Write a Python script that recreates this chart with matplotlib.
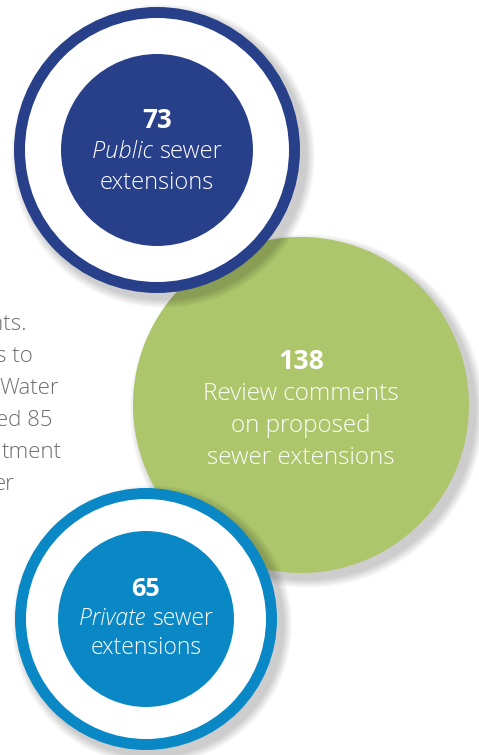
import matplotlib
matplotlib.use("Agg")
import matplotlib.pyplot as plt
from matplotlib.patches import Circle
from matplotlib import font_manager

# --- data ---
values = ["73", "138", "65"]
italic_words = ["Public", None, "Private"]
label_lines = [
    ["sewer", "extensions"],
    ["Review comments", "on proposed", "sewer extensions"],
    ["sewer", "extensions"],
]
side_text = ["nts.", "s to", "Water", "ed 85", "tment", "er"]

# --- layout (pixels, y down) ---
W, H = 479, 755
NAVY = "#283f8a"
GREEN = "#adc56b"
BLUE = "#0a88c6"
GREY = "#6d6e71"
FONT = "Open Sans"


def light_font(italic=False):
    # look for a light (not condensed) weight file, the original type is thin
    for name in ["Noto Sans", "Open Sans", "Lato", "Roboto"]:
        for f in font_manager.fontManager.ttflist:
            w = f.weight if isinstance(f.weight, int) else {"light": 300}.get(f.weight, 400)
            narrow = "ondensed" in f.fname or f.stretch not in ("normal", 500)
            if f.name == name and w == 300 and not narrow and (f.style == "italic") == italic:
                return font_manager.FontProperties(fname=f.fname)
    return font_manager.FontProperties(family=FONT, style="italic" if italic else "normal")


LIGHT = light_font()
LIGHT_IT = light_font(True)

fig = plt.figure(figsize=(W / 100, H / 100), dpi=100)
ax = fig.add_axes([0, 0, 1, 1])
ax.set_xlim(0, W)
ax.set_ylim(H, 0)
ax.set_aspect("equal")
ax.axis("off")


def shadow(cx, cy, r, z):
    for i in range(10):
        ax.add_patch(Circle((cx + 6, cy + 6), r + 1 + i * 0.9, color="#000000",
                            alpha=0.018, lw=0, zorder=z))


def ring_badge(cx, cy, r_out, r_in, ring, color, z):
    shadow(cx, cy, r_out, z)
    ax.add_patch(Circle((cx, cy), r_out, color=color, lw=0, zorder=z + 0.1))
    ax.add_patch(Circle((cx, cy), r_out - ring, color="white", lw=0, zorder=z + 0.2))
    ax.add_patch(Circle((cx, cy), r_in, color=color, lw=0, zorder=z + 0.3))


def badge_text(cx, cy, idx, size, step, z):
    lines = label_lines[idx]
    n = len(lines) + 1
    y0 = cy - step * (n - 1) / 2
    ax.text(cx, y0, values[idx], ha="center", va="center", color="white",
            fontsize=size * 1.1, fontweight="bold", family=FONT, zorder=z)
    r = fig.canvas.get_renderer()
    for k, line in enumerate(lines):
        y = y0 + step * (k + 1)
        if k == 0 and italic_words[idx]:
            t1 = ax.text(0, y, italic_words[idx] + " ", ha="left", va="center",
                         color="white", fontproperties=LIGHT_IT, fontsize=size, zorder=z)
            t2 = ax.text(0, y, line, ha="left", va="center", color="white",
                         fontproperties=LIGHT, fontsize=size, zorder=z)
            w1 = t1.get_window_extent(r).width
            w2 = t2.get_window_extent(r).width
            start = cx - (w1 + w2) / 2
            t1.set_x(start)
            t2.set_x(start + w1)
        else:
            ax.text(cx, y, line, ha="center", va="center", color="white",
                    fontproperties=LIGHT, fontsize=size, zorder=z)


# green circle (behind the two ring badges)
shadow(301, 405, 168, 1)
ax.add_patch(Circle((301, 405), 168, color=GREEN, lw=0, zorder=1.1))
badge_text(301, 410, 1, 17.5, 32, 1.5)

# top navy badge
ring_badge(157, 150, 143, 96, 11, NAVY, 2)
badge_text(157, 152, 0, 17, 31, 2.5)

# bottom blue badge
ring_badge(146, 619, 131, 88, 11, BLUE, 3)
badge_text(146, 619, 2, 16.5, 29, 3.5)

# clipped paragraph on the left edge
right_edges = [27, 33, 59, 53, 62, 15]
for i, (s, xr) in enumerate(zip(side_text, right_edges)):
    ax.text(xr, 325 + 32 * i, s, ha="right", va="center", color=GREY,
            fontproperties=LIGHT, fontsize=16, zorder=0.5)

fig.savefig("out.png", dpi=100, facecolor="white")
